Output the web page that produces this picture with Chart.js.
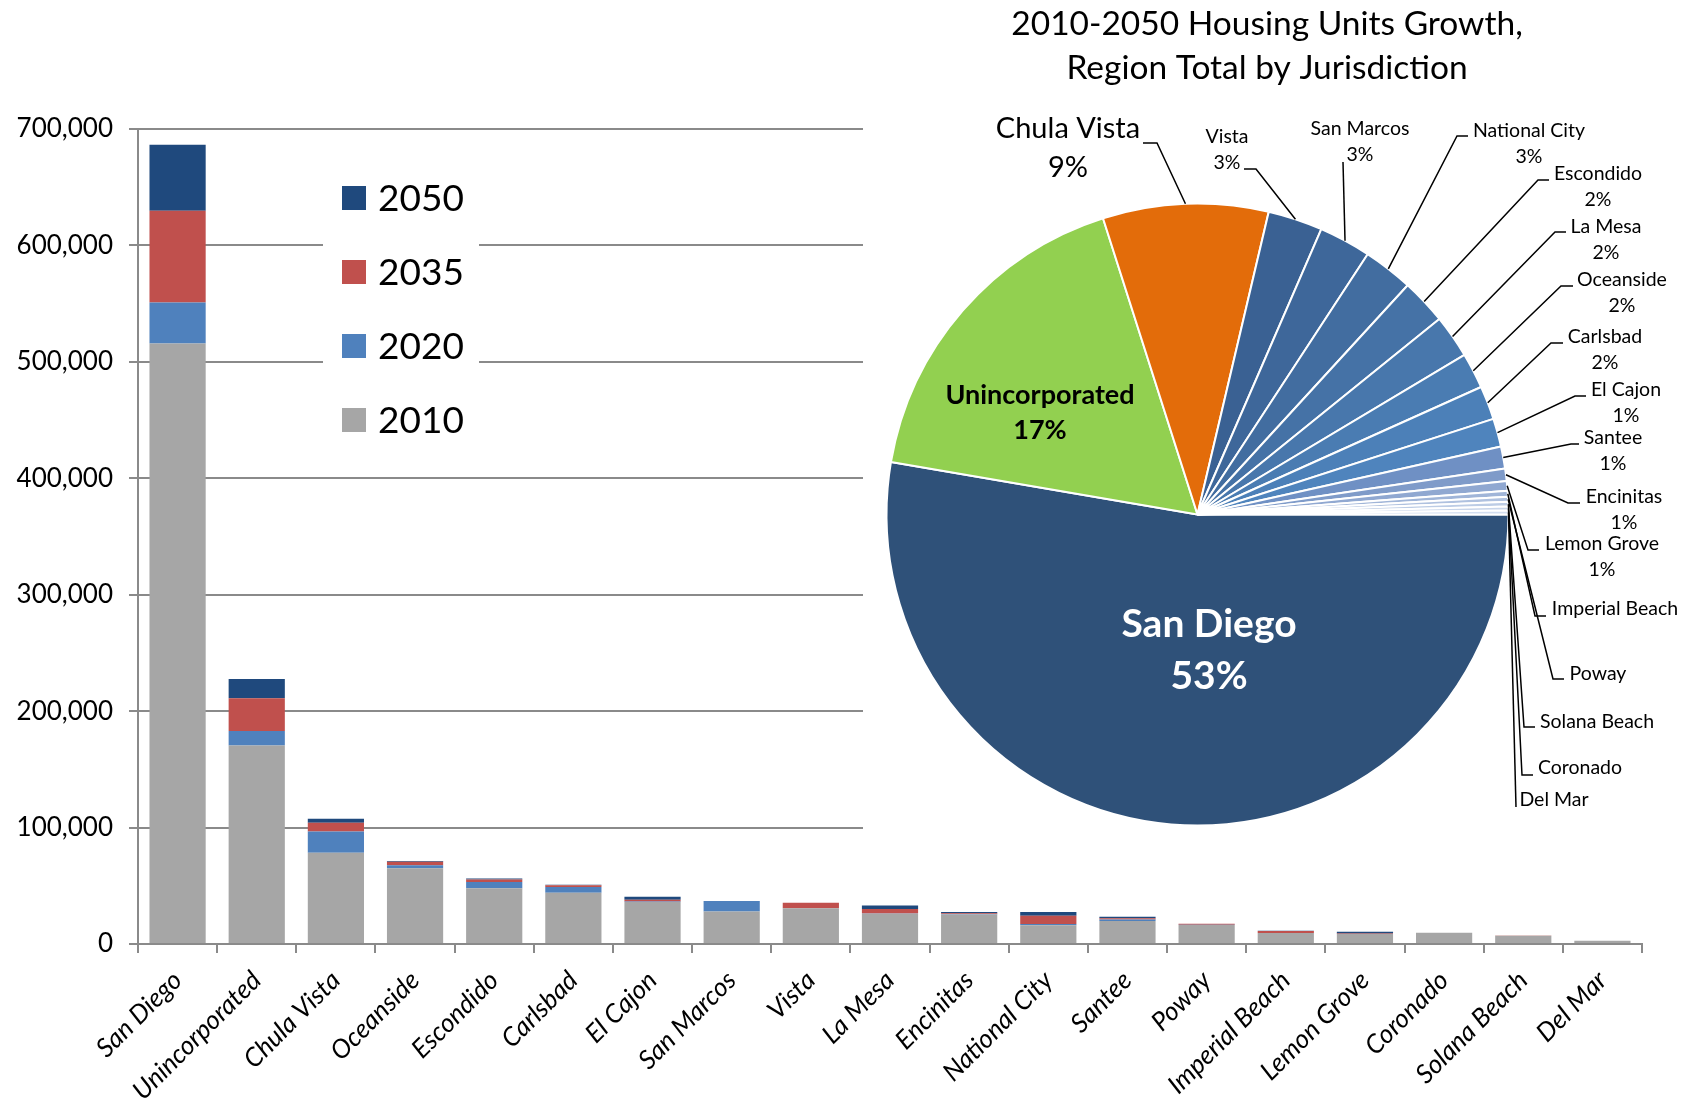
<!DOCTYPE html>
<html>
<head>
<meta charset="utf-8">
<script src="https://cdn.jsdelivr.net/npm/chart.js@4.4.1/dist/chart.umd.min.js"></script>
<style>
  html, body { margin: 0; padding: 0; background: #fff; }
  #wrap { position: relative; width: 1687px; height: 1100px; }
  #barChart { position: absolute; left: 0; top: 0; }
  #pieChart { position: absolute; left: 863px; top: 0; }
</style>
</head>
<body>
<div id="wrap">
  <canvas id="barChart" width="1687" height="1100"></canvas>
  <canvas id="pieChart" width="824" height="845"></canvas>
</div>
<script>
// Données des barres (unités de logement, par juridiction)
const categories = ['San Diego', 'Unincorporated', 'Chula Vista', 'Oceanside', 'Escondido', 'Carlsbad',
  'El Cajon', 'San Marcos', 'Vista', 'La Mesa', 'Encinitas', 'National City', 'Santee', 'Poway',
  'Imperial Beach', 'Lemon Grove', 'Coronado', 'Solana Beach', 'Del Mar'];
const units2010 = [515700, 170400, 78400, 65000, 47800, 44100, 36100, 28000, 30600, 26000, 25400, 16000, 19700, 16300, 9400, 8600, 9700, 7100, 2800];
const add2020 = [35300, 12600, 18300, 2700, 5500, 4800, 300, 8900, 0, 300, 300, 1200, 1400, 200, 0, 0, 0, 0, 0];
const add2035 = [78700, 28000, 7500, 2900, 2000, 1500, 1600, 0, 4900, 3700, 800, 7100, 1100, 800, 1700, 500, 0, 300, 0];
const add2050 = [56700, 16700, 3400, 700, 900, 500, 2600, 0, 0, 3100, 900, 3200, 1100, 100, 300, 1400, 0, 0, 0];
const yTicks = [0, 100000, 200000, 300000, 400000, 500000, 600000, 700000];

// Données du camembert (part de la croissance 2010-2050, %)
const pieTitle = ['2010-2050 Housing Units Growth,', 'Region Total by Jurisdiction'];
const pieLabels = ['San Diego', 'Unincorporated', 'Chula Vista', 'Vista', 'San Marcos', 'National City',
  'Escondido', 'La Mesa', 'Oceanside', 'Carlsbad', 'El Cajon', 'Santee', 'Encinitas', 'Lemon Grove',
  'Imperial Beach', 'Poway', 'Solana Beach', 'Coronado', 'Del Mar'];
const pieShares = [52.75, 17.4, 8.6, 2.84, 2.70, 2.60, 2.37, 2.25, 1.85, 1.75, 1.47, 1.15, 0.64, 0.5, 0.31, 0.26, 0.24, 0.2, 0.21];

const pieColors = ['#2F5179', '#92D050', '#E36C0A', '#3A6193', '#3E679A', '#426DA0', '#4572A6', '#4877AC',
  '#4A7CB2', '#4C80B8', '#4F84BD', '#6F90C4', '#7F9BC9', '#90A8D1', '#A0B5D8', '#AFC1DF', '#BCCCE5', '#C8D5EA', '#D3DEF0'];

// Placement des étiquettes du camembert (coordonnées de la page)
const PIE_LEFT = 863;
const labelSpots = [
  { cx: 1209, cy: 624, size: 39, bold: true, color: '#fff', gap: 52 },
  { cx: 1040, cy: 395, size: 27, bold: true, gap: 35 },
  { cx: 1068, cy: 129, size: 29, gap: 39, lead: [1157, 143, 1143] },
  { cx: 1227, cy: 137, lead: [1256, 169, 1244] },
  { cx: 1360, cy: 129, lead: [1343, 162, 1343] },
  { cx: 1529, cy: 131, lead: [1457, 136, 1468] },
  { cx: 1598, cy: 174, lead: [1538, 180, 1549] },
  { cx: 1606, cy: 227, lead: [1555, 232, 1566] },
  { cx: 1622, cy: 280, lead: [1561, 286, 1573] },
  { cx: 1605, cy: 337, lead: [1551, 343, 1563] },
  { cx: 1626, cy: 390, lead: [1575, 396, 1586] },
  { cx: 1613, cy: 438, lead: [1571, 444, 1579] },
  { cx: 1624, cy: 497, lead: [1568, 503, 1580] },
  { cx: 1602, cy: 544, lead: [1528, 550, 1539] },
  { cx: 1615, cy: 609, lead: [1535, 616, 1546] },
  { cx: 1598, cy: 674, lead: [1553, 679, 1564] },
  { cx: 1597, cy: 722, lead: [1524, 727, 1535] },
  { cx: 1580, cy: 768, lead: [1522, 775, 1533] },
  { cx: 1554, cy: 800, lead: [1516, 807, 1516] }
];

Chart.defaults.font.family = 'Lato, "Open Sans", sans-serif';
Chart.defaults.color = '#000';

// Légende dessinée dans un cadre blanc (2050 en haut)
const legendBox = {
  id: 'legendBox',
  beforeDatasetsDraw(chart) {
    const ctx = chart.ctx;
    ctx.save();
    ctx.fillStyle = '#fff';
    ctx.fillRect(323, 150, 156, 300);
    const items = chart.data.datasets.slice().reverse();
    ctx.font = '37px Lato';
    ctx.textBaseline = 'middle';
    items.forEach((ds, i) => {
      const cy = 198 + i * 74;
      ctx.fillStyle = ds.backgroundColor;
      ctx.fillRect(342, cy - 12, 24, 24);
      ctx.fillStyle = '#000';
      ctx.fillText(ds.label, 378, cy + 1);
    });
    ctx.restore();
  }
};

const barChart = new Chart(document.getElementById('barChart'), {
  type: 'bar',
  data: {
    labels: categories,
    datasets: [
      { label: '2010', data: units2010, backgroundColor: '#A6A6A6' },
      { label: '2020', data: add2020, backgroundColor: '#4F81BD' },
      { label: '2035', data: add2035, backgroundColor: '#C0504D' },
      { label: '2050', data: add2050, backgroundColor: '#1F497D' }
    ]
  },
  options: {
    responsive: false,
    animation: false,
    events: [],
    layout: { padding: { top: 129, right: 45, left: 0, bottom: 0 } },
    datasets: { bar: { categoryPercentage: 1, barPercentage: 0.71 } },
    plugins: { legend: { display: false }, tooltip: { enabled: false } },
    scales: {
      x: {
        stacked: true,
        grid: { offset: true, drawOnChartArea: false, drawTicks: true, tickLength: 9, color: '#8a8a8a', lineWidth: 2 },
        border: { color: '#8a8a8a', width: 2 },
        ticks: { autoSkip: false, minRotation: 45, maxRotation: 45, padding: 12, font: { size: 26, style: 'italic' } },
        afterFit(s) { s.height = 156; s.paddingLeft = 0; s.paddingRight = 0; }
      },
      y: {
        stacked: true,
        min: yTicks[0],
        max: yTicks[yTicks.length - 1],
        afterBuildTicks(s) { s.ticks = yTicks.map(v => ({ value: v })); },
        ticks: { padding: 16, font: { size: 26 }, callback: v => v.toLocaleString('en-US') },
        grid: { color: '#8a8a8a', lineWidth: 2, tickLength: 9 },
        border: { color: '#8a8a8a', width: 2 },
        afterFit(s) { s.width = 138; s.paddingTop = 0; s.paddingBottom = 0; }
      }
    }
  },
  plugins: [legendBox]
});

// Fond blanc du camembert (masque la grille derrière)
const whiteBg = {
  id: 'whiteBg',
  beforeDraw(chart) {
    const ctx = chart.ctx;
    ctx.save();
    ctx.fillStyle = '#fff';
    ctx.fillRect(0, 0, chart.width, chart.height);
    ctx.restore();
  }
};

// Titre + étiquettes avec lignes de rappel
const pieText = {
  id: 'pieText',
  afterDraw(chart) {
    const ctx = chart.ctx;
    const meta = chart.getDatasetMeta(0);
    ctx.save();
    ctx.textAlign = 'center';
    ctx.textBaseline = 'middle';
    ctx.fillStyle = '#000';
    ctx.font = '33.5px Lato';
    pieTitle.forEach((t, i) => ctx.fillText(t, 1267 - PIE_LEFT, 24 + i * 44));

    labelSpots.forEach((spot, i) => {
      const arc = meta.data[i];
      const value = pieShares[i];
      if (spot.lead) {
        const mid = (arc.startAngle + arc.endAngle) / 2;
        const ax = arc.x + Math.cos(mid) * arc.outerRadius;
        const ay = arc.y + Math.sin(mid) * arc.outerRadius;
        ctx.strokeStyle = '#000';
        ctx.lineWidth = 1.5;
        ctx.beginPath();
        ctx.moveTo(ax, ay);
        ctx.lineTo(spot.lead[0] - PIE_LEFT, spot.lead[1]);
        ctx.lineTo(spot.lead[2] - PIE_LEFT, spot.lead[1]);
        ctx.stroke();
      }
      const size = spot.size || 19.5;
      const gap = spot.gap || 26;
      ctx.font = (spot.bold ? 'bold ' : '') + size + 'px Lato';
      ctx.fillStyle = spot.color || '#000';
      ctx.fillText(pieLabels[i], spot.cx - PIE_LEFT, spot.cy);
      if (value >= 0.5) {
        ctx.fillText(Math.round(value) + '%', spot.cx - PIE_LEFT, spot.cy + gap);
      }
    });
    ctx.restore();
  }
};

const pieChart = new Chart(document.getElementById('pieChart'), {
  type: 'pie',
  data: {
    labels: pieLabels,
    datasets: [{
      data: pieShares,
      backgroundColor: pieColors,
      borderColor: '#fff',
      borderWidth: 2,
      hoverOffset: 0
    }]
  },
  options: {
    responsive: false,
    animation: false,
    events: [],
    rotation: 90,
    layout: { padding: { left: 22.5, right: 177.5, top: 202.5, bottom: 18.5 } },
    plugins: { legend: { display: false }, tooltip: { enabled: false } }
  },
  plugins: [whiteBg, pieText]
});
</script>
</body>
</html>
